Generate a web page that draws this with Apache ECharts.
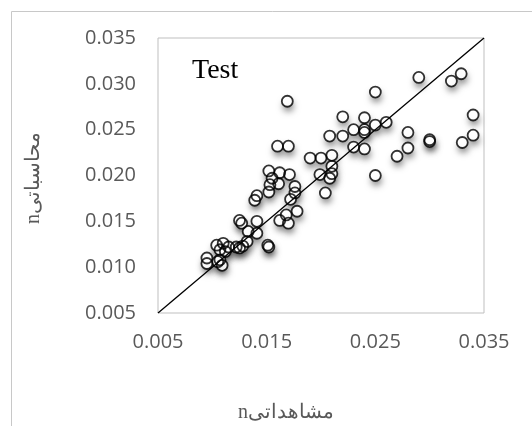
<!DOCTYPE html>
<html>
<head>
<meta charset="utf-8">
<script src="https://cdn.jsdelivr.net/npm/echarts@6/dist/echarts.min.js"></script>
<style>
html,body{margin:0;padding:0;background:#fff;}
#chart{width:532px;height:426px;}
</style>
</head>
<body>
<div id="chart"></div>
<script>
// Observed n (x) and computed n (y)
var observed = [
  0.0169, 0.0160, 0.0170, 0.0290, 0.0320, 0.0329, 0.0250, 0.0220, 0.0240, 0.0340,
  0.0230, 0.0240, 0.0250, 0.0260, 0.0208, 0.0220, 0.0240, 0.0280, 0.0300, 0.0300,
  0.0340, 0.0330, 0.0280, 0.0270, 0.0230, 0.0240, 0.0250, 0.0190, 0.0200, 0.0210,
  0.0210, 0.0199, 0.0210, 0.0208, 0.0204,
  0.0152, 0.0162, 0.0171, 0.0155, 0.0161, 0.0153, 0.0176, 0.0152, 0.0141, 0.0139,
  0.0176, 0.0172, 0.0178, 0.0168, 0.0162, 0.0170, 0.0125, 0.0127, 0.0141, 0.0133,
  0.0141, 0.0132, 0.0128, 0.0151, 0.0152, 0.0104, 0.0110, 0.0115, 0.0107, 0.0112,
  0.0122, 0.0125, 0.0095, 0.0095, 0.0107, 0.0109, 0.0105
];
var computed = [
  0.0281, 0.0232, 0.0232, 0.0307, 0.0303, 0.0311, 0.0291, 0.0264, 0.0263, 0.0266,
  0.0250, 0.0250, 0.0255, 0.0258, 0.0243, 0.0243, 0.0247, 0.0247, 0.0239, 0.0237,
  0.0244, 0.0236, 0.0230, 0.0221, 0.0231, 0.0229, 0.0200, 0.0219, 0.0219, 0.0222,
  0.0210, 0.0201, 0.0202, 0.0197, 0.0181,
  0.0205, 0.0203, 0.0201, 0.0197, 0.0191, 0.0190, 0.0188, 0.0182, 0.0178, 0.0173,
  0.0181, 0.0174, 0.0161, 0.0157, 0.0151, 0.0148, 0.0151, 0.0148, 0.0150, 0.0139,
  0.0137, 0.0128, 0.0123, 0.0124, 0.0122, 0.0124, 0.0126, 0.0122, 0.0119, 0.0117,
  0.0122, 0.0121, 0.0110, 0.0104, 0.0108, 0.0102, 0.0106
];
var lineX = [0.005, 0.035];
var lineY = [0.005, 0.035];
var xTitle = 'nمشاهداتی';
var yTitle = 'nمحاسباتی';
var panelLabel = 'Test';

var pts = observed.map(function (v, i) { return [v, computed[i]]; });
var linePts = lineX.map(function (v, i) { return [v, lineY[i]]; });

var chart = echarts.init(document.getElementById('chart'), null, {renderer: 'canvas'});
var labelStyle = {color: '#595959', fontFamily: 'Open Sans', fontSize: 20,
  formatter: function (v) { return v.toFixed(3); }};
chart.setOption({
  animation: false,
  backgroundColor: '#fff',
  grid: {left: 158, top: 38, right: 48, bottom: 113, show: true,
    borderColor: '#bfbfbf', borderWidth: 1, backgroundColor: 'transparent'},
  xAxis: {type: 'value', min: 0.005, max: 0.035, interval: 0.01,
    axisLine: {show: false}, axisTick: {show: false}, splitLine: {show: false},
    axisLabel: Object.assign({margin: 19}, labelStyle)},
  yAxis: {type: 'value', min: 0.005, max: 0.035, interval: 0.005,
    axisLine: {show: false}, axisTick: {show: false}, splitLine: {show: false},
    axisLabel: Object.assign({margin: 22}, labelStyle)},
  graphic: [
    {type: 'rect', left: 9, top: 9, shape: {width: 700, height: 700}, silent: true,
      style: {fill: 'none', stroke: '#c8c8c8', lineWidth: 1}, z: -10},
    {type: 'text', left: 192, top: 57, style: {text: panelLabel, font: '28px "Liberation Serif"', fill: '#000'}},
    {type: 'text', x: 286, y: 413, style: {text: xTitle, font: '20px "Liberation Serif"', fill: '#595959', align: 'center', verticalAlign: 'middle'}},
    {type: 'text', x: 34, y: 178, rotation: Math.PI / 2, style: {text: yTitle, font: '20px "Liberation Serif"', fill: '#595959', align: 'center', verticalAlign: 'middle'}}
  ],
  series: [
    {type: 'scatter', data: pts, symbol: 'circle', symbolSize: 10, z: 1, silent: true,
      itemStyle: {color: '#fff', borderWidth: 0,
        shadowBlur: 7, shadowColor: 'rgba(0,0,0,0.7)', shadowOffsetX: 1, shadowOffsetY: 5}},
    {type: 'scatter', data: pts, symbol: 'circle', symbolSize: 10, z: 2, silent: true,
      itemStyle: {color: '#fff', borderWidth: 0}},
    {type: 'scatter', data: pts, symbol: 'circle', symbolSize: 11, z: 3,
      itemStyle: {color: 'rgba(255,255,255,0)', borderColor: '#000', borderWidth: 1.8}},
    {type: 'line', data: linePts, showSymbol: false, symbol: 'none', z: 4,
      lineStyle: {color: '#000', width: 1.3}}
  ]
});
</script>
</body>
</html>
